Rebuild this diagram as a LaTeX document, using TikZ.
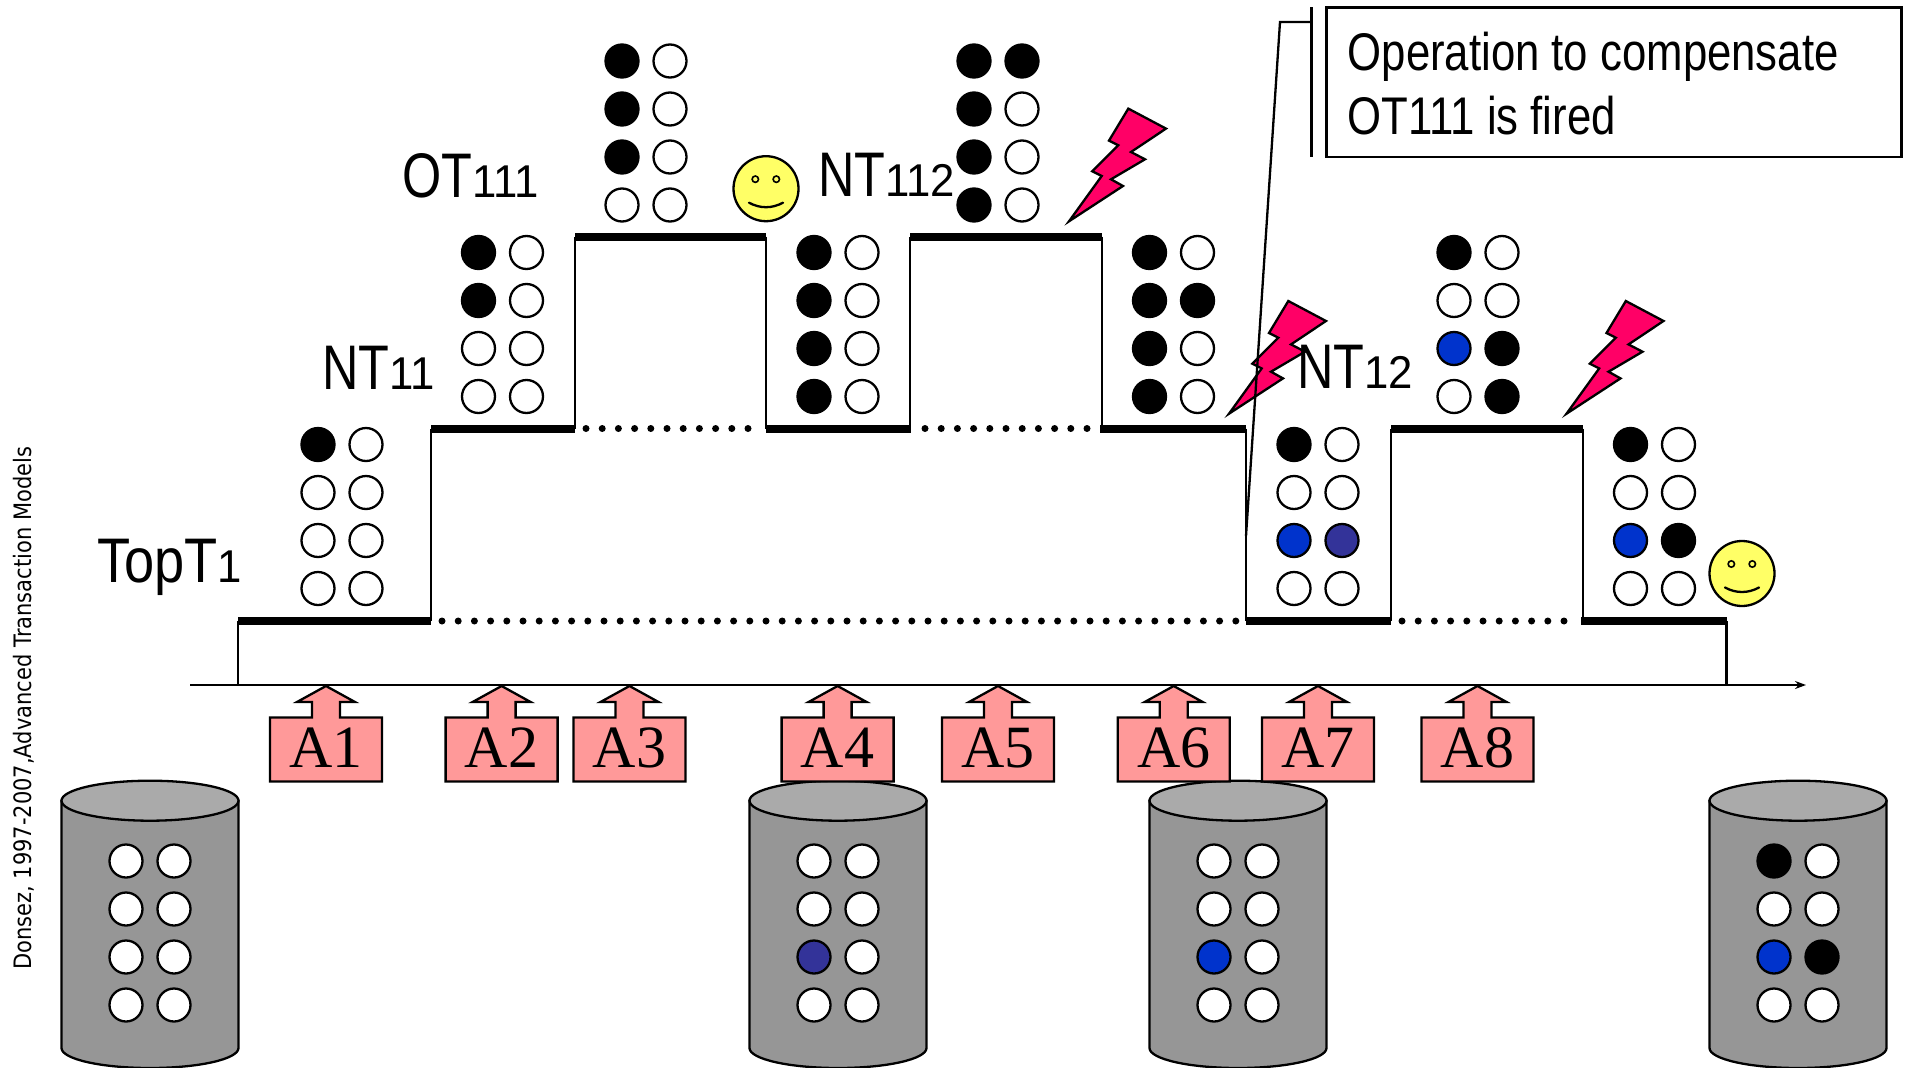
\documentclass[tikz,border=0pt]{standalone}
\usepackage{fontspec}
\setmainfont{Liberation Sans}
\newfontfamily\narrowfont[FakeStretch=0.8]{Liberation Sans}
\newfontfamily\topfont[FakeStretch=0.86]{Liberation Sans}
\newfontfamily\digitfont[FakeStretch=0.95]{Liberation Sans}
\newfontfamily\boxfont[FakeStretch=0.825]{Liberation Sans}
\newfontfamily\sidefont[FakeStretch=0.875]{DejaVu Sans}
\newfontfamily\actfont{Liberation Serif}
\usetikzlibrary{arrows.meta}
\definecolor{boltred}{HTML}{FF0066}
\definecolor{actpink}{HTML}{FF9999}
\definecolor{smileyellow}{HTML}{FFFF66}
\definecolor{lockblue}{HTML}{0033CC}
\definecolor{locknavy}{HTML}{333399}
\definecolor{dbside}{HTML}{969696}
\definecolor{dbtop}{HTML}{AAAAAA}
\tikzset{
    thinline/.style={line width=2.3pt},
    level/.style={line width=8pt},
    dots/.style={line width=7pt, line cap=round, dash pattern=on 0pt off 16.2pt},
    W/.style={circle, draw, thinline, fill=white, minimum size=33pt, inner sep=0pt},
    B/.style={W, fill=black},
    L/.style={W, fill=lockblue},
    N/.style={W, fill=locknavy},
    txname/.style={anchor=base west, inner sep=0pt, font=\narrowfont\fontsize{63}{63}\selectfont},
    boxline/.style={anchor=base west, inner sep=0pt, font=\boxfont\fontsize{53}{53}\selectfont},
    actlabel/.style={inner sep=0pt, font=\actfont\fontsize{60}{60}\selectfont},
}
\newcommand{\subnum}[1]{{\digitfont\fontsize{46}{46}\selectfont #1}}
% grid of 4x2 circles: name, left column x, top row y, eight styles
\newcommand{\lockgrid}[4]{
    \foreach \st [count=\i from 0] in {#4} {
        \pgfmathtruncatemacro{\row}{int(\i/2)}
        \pgfmathtruncatemacro{\col}{mod(\i,2)}
        \node[\st] (#1-\row-\col) at ({#2+48*\col},{#3+48*\row}) {};
    }
}
% action box with its arrow up to the time axis
\newcommand{\actbox}[3]{
    \draw[thinline, fill=actpink] (#2,686) -- ++(29,16) -- ++(-15,0) -- ++(0,15.5) -- ++(42,0)
        -- ++(0,64) -- ++(-112,0) -- ++(0,-64) -- ++(42,0) -- ++(0,-15.5) -- ++(-15,0) -- cycle;
    \node[actlabel] (#1) at (#2,747.5) {#3};
}
% lightning, given by its tip
\newcommand{\bolt}[2]{
    \draw[thinline, fill=boltred, line join=miter] (#1+2,#2-3) -- ++(54,-35.3) -- ++(-12,-6.7) -- ++(34,-20)
        -- ++(-14,-7.3) -- ++(35,-23.4) -- ++(-37.7,-20) -- ++(-19.3,32) -- ++(9.3,4.7)
        -- ++(-26,26) -- ++(9.4,4.7) -- cycle;
}
% cylinder: centre x
\newcommand{\database}[1]{
    \draw[thinline, fill=dbside] (#1-88.5,800.7) -- (#1-88.5,1048)
        arc [start angle=180, end angle=0, x radius=88.5, y radius=20]
        -- (#1+88.5,800.7) -- cycle;
    \draw[thinline, fill=dbtop] (#1,800.7) ellipse [x radius=88.5, y radius=20];
}
% smiley: centre
\newcommand{\smiley}[2]{
    \draw[thinline, fill=smileyellow] (#1,#2) circle [radius=32.5];
    \draw[line width=1.6pt] (#1-10.7,#2-9.5) circle [radius=3.2];
    \draw[line width=1.6pt] (#1+10.3,#2-9.5) circle [radius=3.2];
    \draw[thinline, line cap=round] (#1-17,#2+14) .. controls (#1-6,#2+20) and (#1+6,#2+20) .. (#1+17,#2+14);
}
\begin{document}
\begin{tikzpicture}[x=1pt, y=-1pt]
    \useasboundingbox (0,0) rectangle (1909,1068);

    % 1. Databases
    \database{150}
    \database{838}
    \database{1238}
    \database{1798}

    % 2. Transaction outline
    \draw[thinline] (238,685) -- (238,621);
    \draw[thinline] (431,621) -- (431,428.5);
    \draw[thinline] (575,428.5) -- (575,236.5);
    \draw[thinline] (766,236.5) -- (766,428.5);
    \draw[thinline] (910,428.5) -- (910,236.5);
    \draw[thinline] (1102,236.5) -- (1102,428.5);
    \draw[thinline] (1246,428.5) -- (1246,621);
    \draw[thinline] (1391,621) -- (1391,428.5);
    \draw[thinline] (1583,428.5) -- (1583,621);
    \draw[thinline] (1726.5,621) -- (1726.5,685);

    % 3. Thick levels
    \draw[level] (238,621) -- (431,621);
    \draw[level] (431,428.5) -- (575,428.5);
    \draw[level] (575,236.5) -- (766,236.5);
    \draw[level] (766,428.5) -- (911,428.5);
    \draw[level] (910,236.5) -- (1102,236.5);
    \draw[level] (1100,428.5) -- (1246,428.5);
    \draw[level] (1246,621) -- (1391,621);
    \draw[level] (1391,428.5) -- (1583,428.5);
    \draw[level] (1581,621) -- (1726.5,621);

    % 4. Dotted levels
    \draw[dots] (442,621) -- (1240,621);
    \draw[dots] (1402,621) -- (1578,621);
    \draw[dots] (586,428.5) -- (760,428.5);
    \draw[dots] (925,428.5) -- (1096,428.5);

    % 5. Time axis
    \coordinate (axisstart) at (190,685);
    \coordinate (axisend) at (1806,685);
    \draw[thinline, -{Stealth[length=11pt, width=8pt]}] (axisstart) -- (axisend);

    % 6. Actions
    \actbox{aone}{326}{A1}
    \actbox{atwo}{501.6}{A2}
    \actbox{athree}{629.5}{A3}
    \actbox{afour}{837.6}{A4}
    \actbox{afive}{998}{A5}
    \actbox{asix}{1173.7}{A6}
    \actbox{aseven}{1318}{A7}
    \actbox{aeight}{1477.5}{A8}

    % 7. Lock states
    \lockgrid{gone}{318}{444.5}{B,W,W,W,W,W,W,W}
    \lockgrid{gtwo}{478.5}{252.5}{B,W,B,W,W,W,W,W}
    \lockgrid{gthree}{622}{61}{B,W,B,W,B,W,W,W}
    \lockgrid{gfour}{814}{252.5}{B,W,B,W,B,W,B,W}
    \lockgrid{gfive}{974}{61}{B,B,B,W,B,W,B,W}
    \lockgrid{gsix}{1149.5}{252.5}{B,W,B,B,B,W,B,W}
    \lockgrid{gseven}{1294}{444.5}{B,W,W,W,L,N,W,W}
    \lockgrid{geight}{1454}{252.5}{B,W,W,W,L,B,W,B}
    \lockgrid{gnine}{1630.5}{444.5}{B,W,W,W,L,B,W,W}
    \lockgrid{dbone}{126}{861}{W,W,W,W,W,W,W,W}
    \lockgrid{dbtwo}{814}{861}{W,W,W,W,N,W,W,W}
    \lockgrid{dbthree}{1214}{861}{W,W,W,W,L,W,W,W}
    \lockgrid{dbfour}{1774}{861}{B,W,W,W,L,B,W,W}

    % 8. Lightnings and smileys
    \bolt{1067}{224.3}
    \bolt{1227}{416.7}
    \bolt{1564.5}{416.7}
    \smiley{766}{188.7}
    \smiley{1742}{573.5}

    % 9. Names
    \node[txname] (topname) at (97,582) {{\topfont TopT}\subnum{1}};
    \node[txname] (ntoneone) at (322,389) {NT\subnum{11}};
    \node[txname] (otname) at (402,197) {OT\subnum{111}};
    \node[txname] (ntonetwo) at (818,196.7) {NT\subnum{112}};
    \node[txname] (nttwelve) at (1297,388.5) {NT\subnum{12}};

    % 10. Callout
    \draw[thinline, fill=white] (1326.5,7.5) rectangle (1901.5,157);
    \node[boxline] (boxtop) at (1347.5,70.5) {Operation to compensate};
    \node[boxline] (boxbottom) at (1347.5,134) {OT111 is fired};
    \coordinate (barup) at (1311.5,7);
    \coordinate (bardown) at (1311.5,157);
    \coordinate (leadbend) at (1280,22);
    \coordinate (leadbar) at (1311.5,22);
    \coordinate (leadtip) at (1246,536);
    \draw[thinline] (barup) -- (bardown);
    \draw[thinline] (leadbar) -- (leadbend) -- (leadtip);

    % 11. Side note
    \node[rotate=90, anchor=base west, inner sep=0pt, font=\sidefont\fontsize{24}{24}\selectfont] (sidenote) at (31,970) {Donsez, 1997-2007,Advanced Transaction Models};
\end{tikzpicture}
\end{document}
